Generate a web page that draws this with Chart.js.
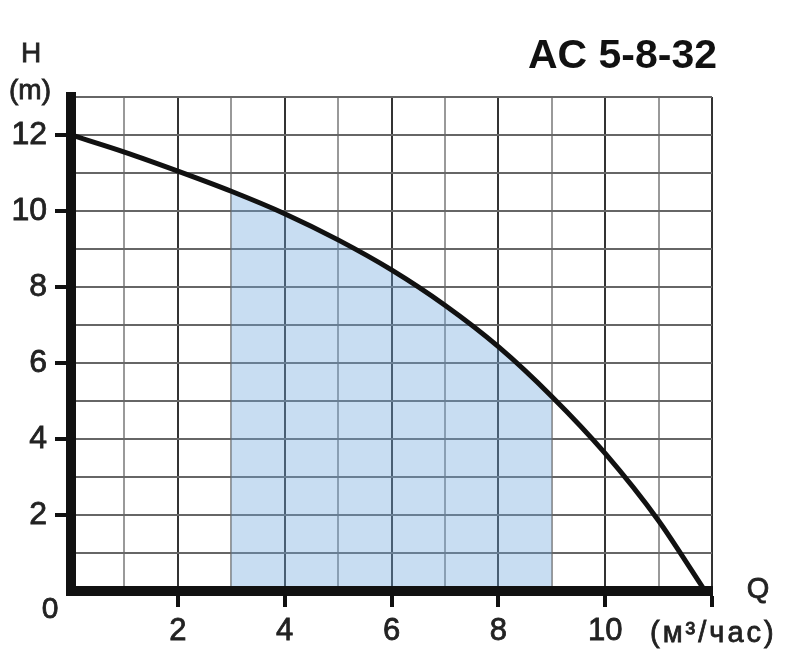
<!DOCTYPE html>
<html>
<head>
<meta charset="utf-8">
<script src="https://cdn.jsdelivr.net/npm/chart.js@4.4.1/dist/chart.umd.min.js"></script>
<style>
html,body{margin:0;padding:0;background:#fff;}
#wrap{width:800px;height:665px;position:relative;}
</style>
</head>
<body>
<div id="wrap"><canvas id="c" width="800" height="665"></canvas></div>
<script>
// Data
const flowQ = [0, 1, 2, 3, 4, 5, 6, 7, 8, 9, 10, 11, 11.5, 11.87];      // m³/час
const headH = [12, 11.55, 11.05, 10.52, 9.93, 9.24, 8.45, 7.52, 6.43, 5.12, 3.62, 1.85, 0.8, 0]; // m
const workRange = [3, 9];                                         // shaded working range (Q)
const xTickLabels = [2, 4, 6, 8, 10];
const yTickLabels = [2, 4, 6, 8, 10, 12];
const modelName = 'AC 5-8-32';

const curvePts = flowQ.map((q, i) => ({x: q, y: headH[i]}));
const shadePts = curvePts.filter(p => p.x >= workRange[0] && p.x <= workRange[1]);

const FONT = '"Liberation Sans", Arial, Helvetica, sans-serif';

const textPlugin = {
  id: 'texts',
  afterDatasetsDraw(chart) {
    // keep the thick axis lines above the shaded area
    chart.scales.x.drawBorder();
    chart.scales.y.drawBorder();
  },
  afterDraw(chart) {
    const ctx = chart.ctx;
    ctx.save();
    ctx.fillStyle = '#222';
    ctx.strokeStyle = '#222';
    ctx.lineWidth = 0.8;
    ctx.textBaseline = 'alphabetic';
    const put = (t, x, y) => { ctx.fillText(t, x, y); ctx.strokeText(t, x, y); };
    ctx.font = '28px ' + FONT;
    ctx.textAlign = 'center';
    put('H', 31, 62);
    put('(m)', 30, 99);
    ctx.font = '30px ' + FONT;
    put('0', 50, 618);
    ctx.font = '29px ' + FONT;
    put('Q', 758, 598);
    ctx.textAlign = 'left';
    ctx.letterSpacing = '3px';
    put('(м³/час)', 650, 642);
    ctx.letterSpacing = '0px';
    ctx.textAlign = 'right';
    ctx.font = 'bold 41px ' + FONT;
    ctx.fillStyle = '#111';
    ctx.fillText(modelName, 717, 68);
    ctx.restore();
  }
};

new Chart(document.getElementById('c'), {
  type: 'line',
  data: {
    datasets: [
      {
        data: curvePts,
        borderColor: '#111',
        borderWidth: 5,
        pointRadius: 0,
        cubicInterpolationMode: 'monotone',
        fill: false
      },
      {
        data: shadePts,
        borderWidth: 0,
        borderColor: 'rgba(0,0,0,0)',
        backgroundColor: 'rgba(110,165,222,0.38)',
        pointRadius: 0,
        cubicInterpolationMode: 'monotone',
        fill: 'origin'
      }
    ]
  },
  options: {
    responsive: false,
    animation: false,
    events: [],
    layout: {padding: {left: 0, right: 88, top: 97, bottom: 0}},
    plugins: {legend: {display: false}, tooltip: {enabled: false}, title: {display: false}},
    scales: {
      x: {
        type: 'linear',
        min: 0, max: 12,
        afterFit(s) { s.height = 74; },
        border: {display: true, color: '#111', width: 10},
        grid: {
          color: c => (c.tick && c.tick.value % 2 === 0) ? '#333' : '#999',
          lineWidth: 2,
          drawTicks: true,
          tickLength: 16,
          tickWidth: 4,
          tickColor: c => (c.tick && c.tick.value % 2 === 0 && c.tick.value > 0) ? '#111' : 'rgba(0,0,0,0)'
        },
        ticks: {
          stepSize: 1,
          autoSkip: false,
          maxRotation: 0,
          padding: 6,
          color: '#222',
          textStrokeColor: '#222',
          textStrokeWidth: 0.8,
          font: {family: FONT, size: 31},
          callback: v => xTickLabels.includes(v) ? String(v) : ''
        }
      },
      y: {
        min: 0, max: 13,
        afterFit(s) { s.width = 71; },
        border: {display: true, color: '#111', width: 10},
        grid: {
          color: '#666',
          lineWidth: 2,
          drawTicks: true,
          tickLength: 16,
          tickWidth: 4,
          tickColor: c => (c.tick && yTickLabels.includes(c.tick.value)) ? '#111' : 'rgba(0,0,0,0)'
        },
        ticks: {
          stepSize: 1,
          autoSkip: false,
          padding: 8,
          color: '#222',
          textStrokeColor: '#222',
          textStrokeWidth: 0.8,
          font: {family: FONT, size: 32},
          callback: v => yTickLabels.includes(v) ? String(v) : ''
        }
      }
    }
  },
  plugins: [textPlugin]
});
</script>
</body>
</html>
